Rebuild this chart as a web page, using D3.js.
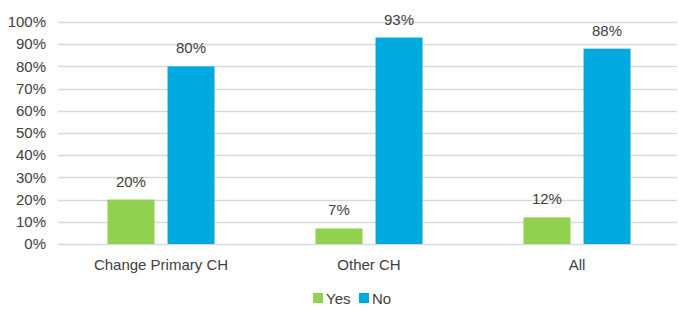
<!DOCTYPE html>
<html>
<head>
<meta charset="utf-8">
<script src="https://cdn.jsdelivr.net/npm/d3@7"></script>
<style>
  body { margin: 0; background: #fff; }
  text { font-family: "Liberation Sans", Arial, sans-serif; fill: #404040; }
</style>
</head>
<body>
<script>
// data
var categories = ["Change Primary CH", "Other CH", "All"];
var series = ["Yes", "No"];
var yesValues = [20, 7, 12];
var noValues = [80, 93, 88];
var yTicks = [0, 10, 20, 30, 40, 50, 60, 70, 80, 90, 100];
var colors = { Yes: "#92d050", No: "#00a9e0" };

var W = 678, H = 310;
var plotLeft = 58, plotRight = 677, plotTop = 22, plotBottom = 244;

var svg = d3.select("body").append("svg")
    .attr("width", W)
    .attr("height", H);

var y = d3.scaleLinear().domain([0, 100]).range([plotBottom, plotTop]);

var x0 = d3.scaleBand()
    .domain(categories)
    .range([57, 681]);

var x1 = d3.scaleBand()
    .domain(series)
    .range([0, x0.bandwidth()])
    .paddingInner(0.218)
    .paddingOuter(0.84);

// gridlines
svg.append("g").selectAll("line")
    .data(yTicks)
    .enter().append("line")
    .attr("x1", plotLeft)
    .attr("x2", plotRight)
    .attr("y1", d => Math.round(y(d)) + 0.5)
    .attr("y2", d => Math.round(y(d)) + 0.5)
    .attr("stroke", "#d9d9d9")
    .attr("stroke-width", 1.3);

// y labels
svg.append("g").selectAll("text")
    .data(yTicks)
    .enter().append("text")
    .attr("x", 46)
    .attr("y", d => y(d))
    .attr("dy", "0.35em")
    .attr("text-anchor", "end")
    .style("font-size", "15px")
    .text(d => d + "%");

var rows = categories.map((c, i) => ({ cat: c, Yes: yesValues[i], No: noValues[i] }));

var groups = svg.append("g").selectAll("g")
    .data(rows)
    .enter().append("g")
    .attr("transform", d => "translate(" + x0(d.cat) + ",0)");

groups.selectAll("rect")
    .data(d => series.map(s => ({ key: s, value: d[s] })))
    .enter().append("rect")
    .attr("x", d => x1(d.key))
    .attr("width", x1.bandwidth())
    .attr("y", d => y(d.value))
    .attr("height", d => y(0) - y(d.value))
    .attr("fill", d => colors[d.key]);

groups.selectAll("text.val")
    .data(d => series.map(s => ({ key: s, value: d[s] })))
    .enter().append("text")
    .attr("class", "val")
    .attr("x", d => x1(d.key) + x1.bandwidth() / 2)
    .attr("y", d => y(d.value) - 13)
    .attr("text-anchor", "middle")
    .style("font-size", "15px")
    .text(d => d.value + "%");

// category labels
svg.append("g").selectAll("text")
    .data(categories)
    .enter().append("text")
    .attr("x", d => x0(d) + x0.bandwidth() / 2)
    .attr("y", 270)
    .attr("text-anchor", "middle")
    .style("font-size", "15px")
    .text(d => d);

// legend
var legend = svg.append("g").attr("transform", "translate(313,293)");
var lx = [0, 46];
series.forEach(function (s, i) {
    legend.append("rect")
        .attr("x", lx[i])
        .attr("y", 0)
        .attr("width", 10)
        .attr("height", 10)
        .attr("fill", colors[s]);
    legend.append("text")
        .attr("x", lx[i] + 13)
        .attr("y", 10.5)
        .style("font-size", "15px")
        .text(s);
});
</script>
</body>
</html>
